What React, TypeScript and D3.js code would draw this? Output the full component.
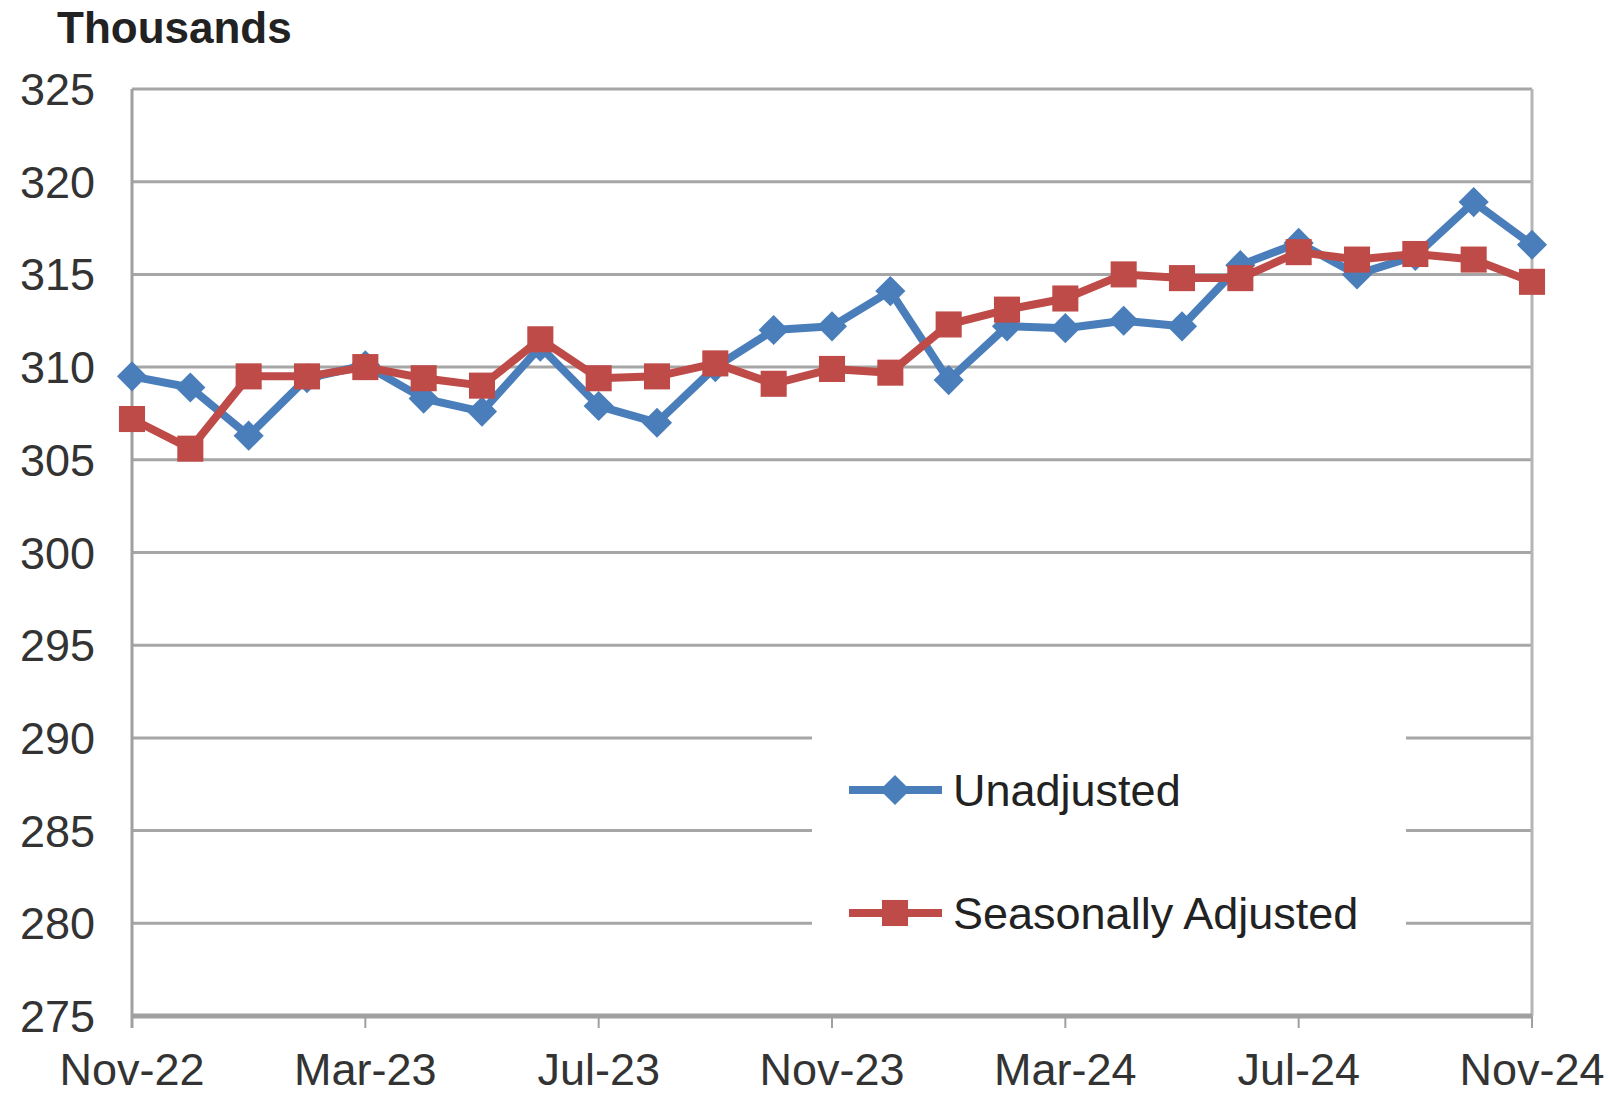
import { useRef, useEffect } from "react";
import * as d3 from "d3";

const months = [
  "Nov-22", "Dec-22", "Jan-23", "Feb-23", "Mar-23", "Apr-23", "May-23", "Jun-23", "Jul-23",
  "Aug-23", "Sep-23", "Oct-23", "Nov-23", "Dec-23", "Jan-24", "Feb-24", "Mar-24", "Apr-24",
  "May-24", "Jun-24", "Jul-24", "Aug-24", "Sep-24", "Oct-24", "Nov-24",
];

const unadjusted = [
  309.5, 308.9, 306.3, 309.4, 310.1, 308.3, 307.6, 311.1, 307.9, 307.0, 310.0, 312.0, 312.2,
  314.1, 309.3, 312.2, 312.1, 312.5, 312.2, 315.5, 316.7, 315.0, 316.0, 318.9, 316.6,
];

const seasonallyAdjusted = [
  307.2, 305.6, 309.5, 309.5, 310.0, 309.4, 309.0, 311.5, 309.4, 309.5, 310.2, 309.1, 309.9,
  309.7, 312.3, 313.1, 313.7, 315.0, 314.8, 314.8, 316.2, 315.8, 316.1, 315.8, 314.6,
];

const yTicks = [275, 280, 285, 290, 295, 300, 305, 310, 315, 320, 325];
const xTickLabels = ["Nov-22", "Mar-23", "Jul-23", "Nov-23", "Mar-24", "Jul-24", "Nov-24"];

const BLUE = "#4a7ebb";
const RED = "#be4b48";
const FONT = "'Liberation Sans', Arial, sans-serif";

export default function App() {
  const svgRef = useRef<SVGSVGElement>(null);

  useEffect(() => {
    if (!svgRef.current) return;

    const width = 1611;
    const height = 1094;
    const margin = { top: 89, right: 79, bottom: 78, left: 132 };

    const svg = d3.select(svgRef.current);
    svg.selectAll("*").remove();
    svg.attr("width", width).attr("height", height).attr("viewBox", `0 0 ${width} ${height}`);

    svg.append("rect").attr("width", width).attr("height", height).attr("fill", "#fff");

    const x = d3
      .scalePoint<string>()
      .domain(months)
      .range([margin.left, width - margin.right]);

    const y = d3
      .scaleLinear()
      .domain([275, 325])
      .range([height - margin.bottom, margin.top]);

    // gridlines
    svg
      .selectAll(".grid")
      .data(yTicks.filter((t) => t !== 275))
      .enter()
      .append("line")
      .attr("x1", margin.left)
      .attr("x2", width - margin.right)
      .attr("y1", (d) => y(d))
      .attr("y2", (d) => y(d))
      .attr("stroke", "#a6a6a6")
      .attr("stroke-width", 3);

    // frame: left and right edges
    svg
      .append("line")
      .attr("x1", margin.left)
      .attr("x2", margin.left)
      .attr("y1", y(325))
      .attr("y2", y(275) + 12)
      .attr("stroke", "#a0a0a0")
      .attr("stroke-width", 3);
    svg
      .append("line")
      .attr("x1", width - margin.right)
      .attr("x2", width - margin.right)
      .attr("y1", y(325))
      .attr("y2", y(275))
      .attr("stroke", "#b5b5b5")
      .attr("stroke-width", 3);

    // x axis
    svg
      .append("line")
      .attr("x1", margin.left)
      .attr("x2", width - margin.right)
      .attr("y1", y(275))
      .attr("y2", y(275))
      .attr("stroke", "#a0a0a0")
      .attr("stroke-width", 5);

    svg
      .selectAll(".xtick")
      .data(xTickLabels)
      .enter()
      .append("line")
      .attr("x1", (d) => x(d) ?? 0)
      .attr("x2", (d) => x(d) ?? 0)
      .attr("y1", y(275))
      .attr("y2", y(275) + 12)
      .attr("stroke", "#a0a0a0")
      .attr("stroke-width", 2);

    svg
      .selectAll(".xlabel")
      .data(xTickLabels)
      .enter()
      .append("text")
      .attr("x", (d) => x(d) ?? 0)
      .attr("y", 1085)
      .attr("text-anchor", "middle")
      .attr("font-family", FONT)
      .attr("font-size", 45)
      .attr("fill", "#333")
      .text((d) => d);

    svg
      .selectAll(".ylabel")
      .data(yTicks)
      .enter()
      .append("text")
      .attr("x", 95)
      .attr("y", (d) => y(d) + 16)
      .attr("text-anchor", "end")
      .attr("font-family", FONT)
      .attr("font-size", 45)
      .attr("fill", "#333")
      .text((d) => d);

    svg
      .append("text")
      .attr("x", 57)
      .attr("y", 43)
      .attr("font-family", FONT)
      .attr("font-size", 44)
      .attr("font-weight", "bold")
      .attr("fill", "#222")
      .text("Thousands");

    const line = d3
      .line<number>()
      .x((_, i) => x(months[i]) ?? 0)
      .y((d) => y(d));

    const diamond = d3.symbol().type(d3.symbolDiamond2).size(580);
    const square = d3.symbol().type(d3.symbolSquare).size(680);

    const series = [
      { name: "Unadjusted", values: unadjusted, color: BLUE, symbol: diamond },
      { name: "Seasonally Adjusted", values: seasonallyAdjusted, color: RED, symbol: square },
    ];

    series.forEach((s) => {
      svg
        .append("path")
        .datum(s.values)
        .attr("d", line)
        .attr("fill", "none")
        .attr("stroke", s.color)
        .attr("stroke-width", 8)
        .attr("stroke-linejoin", "round");

      svg
        .selectAll(null)
        .data(s.values)
        .enter()
        .append("path")
        .attr("d", s.symbol)
        .attr("transform", (d, i) => `translate(${x(months[i])},${y(d)})`)
        .attr("fill", s.color);
    });

    // legend box over the gridlines
    const legend = svg.append("g");
    legend
      .append("rect")
      .attr("x", 812)
      .attr("y", 725)
      .attr("width", 594)
      .attr("height", 246)
      .attr("fill", "#fff");

    series.forEach((s, i) => {
      const ly = 790 + i * 123;
      legend
        .append("line")
        .attr("x1", 849)
        .attr("x2", 942)
        .attr("y1", ly)
        .attr("y2", ly)
        .attr("stroke", s.color)
        .attr("stroke-width", 8);
      legend
        .append("path")
        .attr("d", s.symbol)
        .attr("transform", `translate(895,${ly})`)
        .attr("fill", s.color);
      legend
        .append("text")
        .attr("x", 953)
        .attr("y", ly + 16)
        .attr("font-family", FONT)
        .attr("font-size", 45)
        .attr("fill", "#222")
        .text(s.name);
    });
  }, []);

  return (
    <div style={{ position: "absolute", left: 0, top: 0 }}>
      <svg ref={svgRef} style={{ display: "block" }} />
    </div>
  );
}
